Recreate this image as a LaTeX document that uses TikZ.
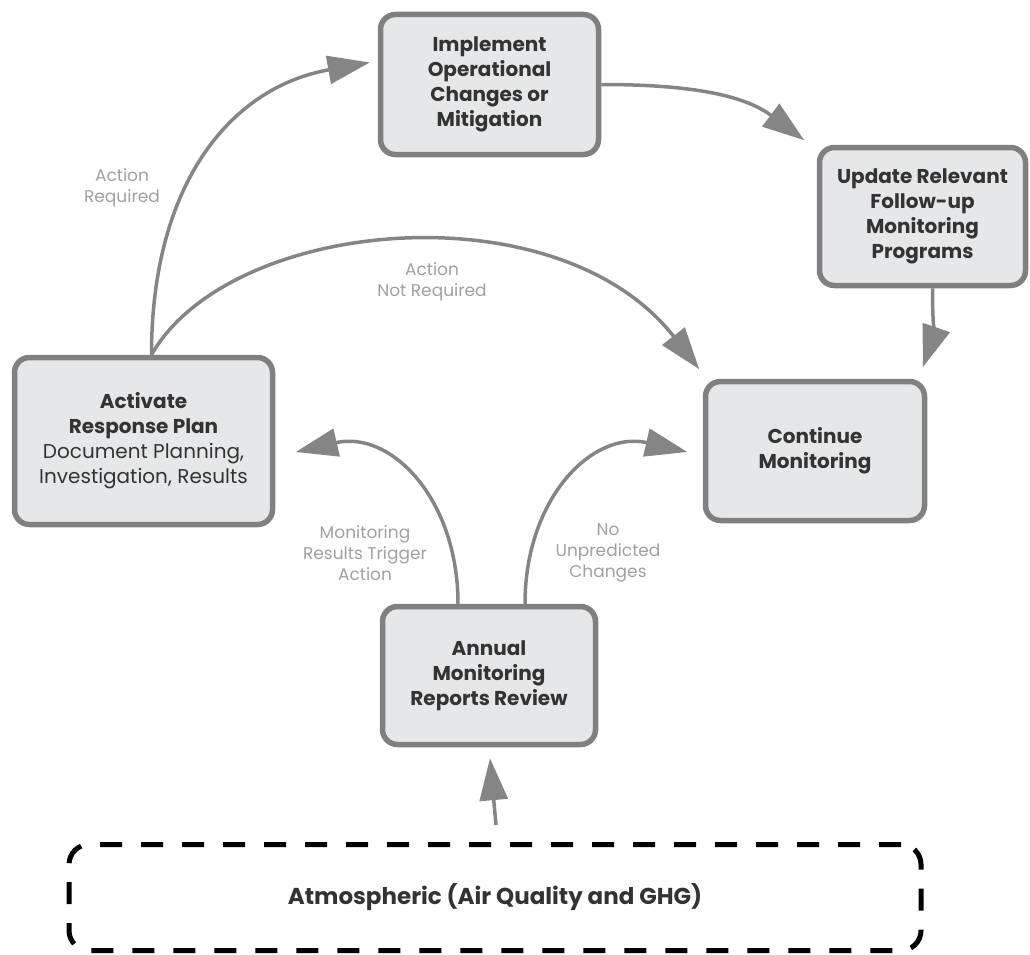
\documentclass[tikz,border=0pt]{standalone}
\usepackage{fontspec}
\setmainfont{Poppins}
\usetikzlibrary{arrows.meta}
\definecolor{boxfill}{HTML}{E6E7E8}
\definecolor{boxline}{HTML}{808080}
\definecolor{arrowc}{HTML}{858585}
\definecolor{labc}{HTML}{A0A0A0}
\definecolor{txt}{HTML}{333333}
\begin{document}
\begin{tikzpicture}[x=1pt,y=-1pt,
  procbox/.style={draw=boxline, line width=5.5pt, fill=boxfill, rounded corners=15pt,
    text=txt, font=\bfseries\fontsize{20}{25}\selectfont, align=center, inner sep=0pt},
  flow/.style={draw=arrowc, line width=3.5pt, -{Triangle[length=42pt,width=28pt]}},
  lab/.style={text=labc, font=\fontsize{17}{21}\selectfont, align=center, inner sep=0pt},
  dashbox/.style={draw=black, line width=5pt, dash pattern=on 22pt off 19pt, rounded corners=20pt,
    text=txt, font=\bfseries\fontsize{23}{28}\selectfont, inner sep=0pt}]
\useasboundingbox (0,0) rectangle (1030,955);

\node[procbox, minimum width=218pt, minimum height=140pt] (impl) at (489.5,84.5)
  {Implement\\Operational\\Changes or\\Mitigation};
\node[procbox, minimum width=206pt, minimum height=138pt] (upd) at (922.5,216.5)
  {Update Relevant\\Follow-up\\Monitoring\\Programs};
\node[procbox, minimum width=258pt, minimum height=167pt] (act) at (143.5,441)
  {Activate\\Response Plan\\{\mdseries Document Planning,}\\{\mdseries Investigation, Results}};
\node[procbox, minimum width=219pt, minimum height=139pt] (cont) at (815,451)
  {Continue\\Monitoring};
\node[procbox, minimum width=213pt, minimum height=138pt] (ann) at (489,675.5)
  {Annual\\Monitoring\\Reports Review};
\node[dashbox, minimum width=852pt, minimum height=106pt] (atm) at (495,897.5)
  {Atmospheric (Air Quality and GHG)};

\coordinate (actTop) at ([xshift=8pt]act.north);
\coordinate (annL) at ([xshift=-31pt]ann.north);
\coordinate (annR) at ([xshift=36pt]ann.north);

\draw[flow] (actTop) .. controls +(0,-170) and +(-140,25) .. ([shift={(-8pt,22pt)}]impl.west);
\draw[flow] (actTop) .. controls +(78,-137) and +(-142,-182) .. ([shift={(-3.5pt,9.5pt)}]cont.north west);
\draw[flow] (impl.east) .. controls +(90,0) and +(-60,-45) .. ([shift={(-12.5pt,4.5pt)}]upd.north west);
\draw[flow] ([xshift=10pt]upd.south) .. controls +(0,45) and +(12,-35) .. ([shift={(-4.5pt,11.5pt)}]cont.north east);
\draw[flow] (annL) .. controls +(0,-105) and +(95,-22) .. ([shift={(20.5pt,-11pt)}]act.east);
\draw[flow] (annR) .. controls +(0,-105) and +(-95,-22) .. ([shift={(-15.5pt,-1pt)}]cont.west);
\draw[flow] ([xshift=1pt,yshift=17pt]atm.north) -- ([xshift=1pt,yshift=-11pt]ann.south);

\node[lab] (l1) at (122,188) {Action\\Required};
\node[lab] (l2) at (432,282) {Action\\Not Required};
\node[lab] (l3) at (365,553) {Monitoring\\Results Trigger\\Action};
\node[lab] (l4) at (608,553) {No\\Unpredicted\\Changes};
\end{tikzpicture}
\end{document}
